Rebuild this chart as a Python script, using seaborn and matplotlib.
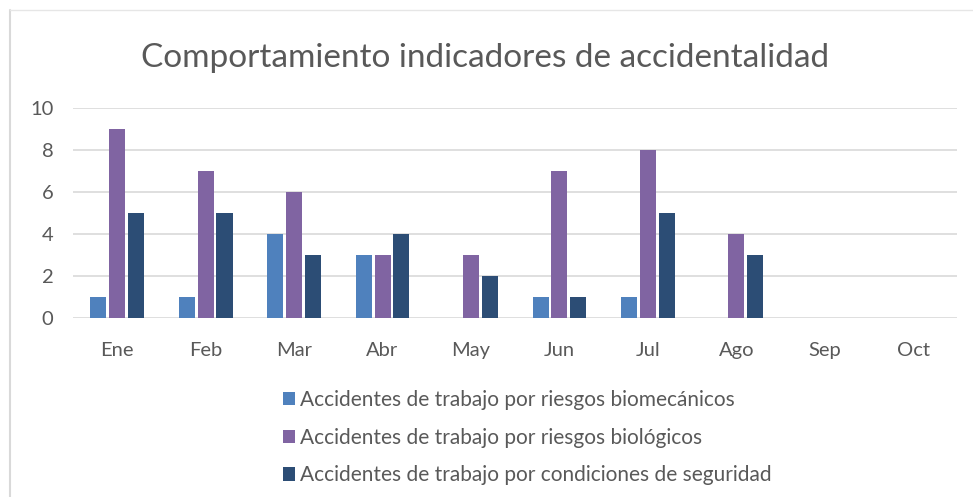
import pandas as pd
import matplotlib.pyplot as plt
import seaborn as sns
from matplotlib.lines import Line2D

# Data
meses = ['Ene', 'Feb', 'Mar', 'Abr', 'May', 'Jun', 'Jul', 'Ago', 'Sep', 'Oct']
biomecanicos = [1, 1, 4, 3, 0, 1, 1, 0, 0, 0]
biologicos = [9, 7, 6, 3, 3, 7, 8, 4, 0, 0]
seguridad = [5, 5, 3, 4, 2, 1, 5, 3, 0, 0]

series = [
    'Accidentes de trabajo por riesgos biomecánicos',
    'Accidentes de trabajo por riesgos biológicos',
    'Accidentes de trabajo por condiciones de seguridad',
]
colores = ['#4F81BD', '#8064A2', '#2C4D75']

# Long format for seaborn
df = pd.DataFrame({
    'mes': meses * 3,
    'valor': biomecanicos + biologicos + seguridad,
    'serie': [series[0]] * 10 + [series[1]] * 10 + [series[2]] * 10,
})

sns.set_style('white')
plt.rcParams['font.family'] = ['Lato', 'DejaVu Sans']
gris = '#595959'

fig = plt.figure(figsize=(9.73, 4.97), dpi=100)
ax = fig.add_axes([0.075, 0.36, 0.909, 0.423])

sns.barplot(data=df, x='mes', y='valor', hue='serie', order=meses,
            hue_order=series, palette=colores, width=0.64, gap=0.15,
            saturation=1, linewidth=0, ax=ax, legend=True)

ax.set_ylim(0, 10)
ax.set_yticks(range(0, 11, 2))
ax.yaxis.grid(True, color='#D9D9D9', linewidth=1.2)
ax.set_axisbelow(True)
sns.despine(ax=ax, left=True, bottom=True, top=True, right=True)
ax.set_xlabel('')
ax.set_ylabel('')
ax.tick_params(axis='both', length=0, labelsize=14.5, colors=gris)
ax.tick_params(axis='x', pad=17)
ax.tick_params(axis='y', pad=14)

# Legend below the plot, one column
handles, labels = ax.get_legend_handles_labels()
ax.legend(handles, labels, loc='upper left', bbox_to_anchor=(0.216, -0.253),
          frameon=False, ncol=1, fontsize=15, labelcolor=gris,
          handlelength=0.6, handleheight=0.6, handletextpad=0.25,
          labelspacing=0.85)

fig.text(0.4985, 0.865, 'Comportamiento indicadores de accidentalidad',
         ha='center', va='baseline', fontsize=24, color=gris)

# Chart frame (left and top edges visible)
fig.add_artist(Line2D([0.0105, 0.0105], [0.0, 0.98], color='#D9D9D9', linewidth=1.5))
fig.add_artist(Line2D([0.0105, 1.0], [0.98, 0.98], color='#E6E6E6', linewidth=1.0))

fig.savefig('out.png', dpi=100)
